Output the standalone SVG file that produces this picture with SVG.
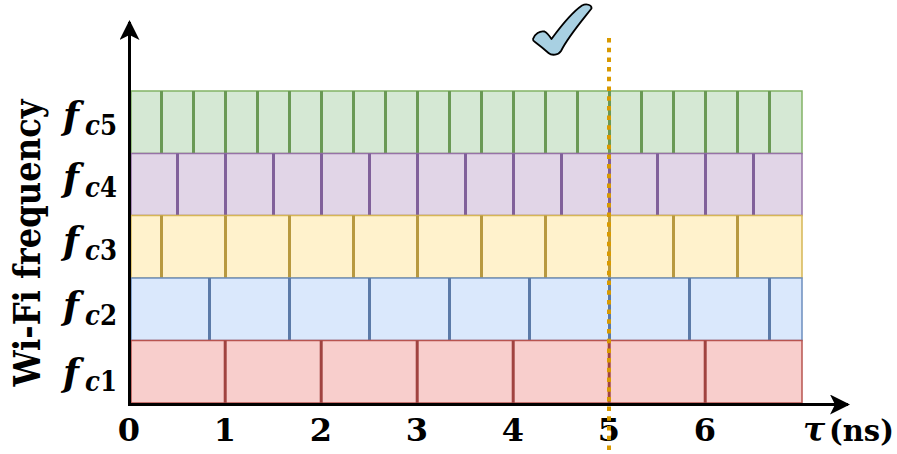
<svg xmlns="http://www.w3.org/2000/svg" width="897" height="454" viewBox="0 0 897 454">
<defs>
<style>
.band{stroke-width:1.5}
.div{stroke-width:3}
.g rect{fill:#d5e8d4;stroke:#82b366}
.g line{stroke:#6a9955}
.p rect{fill:#e1d5e7;stroke:#9673a6}
.p line{stroke:#80609a}
.y rect{fill:#fff2cc;stroke:#d6b656}
.y line{stroke:#b8993f}
.b rect{fill:#dae8fc;stroke:#6c8ebf}
.b line{stroke:#5b7aa8}
.r rect{fill:#f8cecc;stroke:#b85450}
.r line{stroke:#a04340}
.axis{stroke:#000;stroke-width:3;fill:none}
.ser{font-family:'DejaVu Serif','Liberation Serif',serif;font-weight:bold;fill:#000}
</style>
<marker id="arr" viewBox="0 0 20 20" refX="18" refY="10" markerWidth="20" markerHeight="20" markerUnits="userSpaceOnUse" orient="auto">
<path d="M0,0 L20,10 L0,20 L5,10 Z" fill="#000"/>
</marker>
</defs>

<g id="band-fc5" class="g">
<rect class="band" x="131" y="91" width="671" height="62.5"/>
<g class="div">
<line x1="161.5" y1="91" x2="161.5" y2="153.5"/><line x1="193.5" y1="91" x2="193.5" y2="153.5"/><line x1="225.5" y1="91" x2="225.5" y2="153.5"/><line x1="257.5" y1="91" x2="257.5" y2="153.5"/><line x1="289.5" y1="91" x2="289.5" y2="153.5"/><line x1="321.5" y1="91" x2="321.5" y2="153.5"/><line x1="353.5" y1="91" x2="353.5" y2="153.5"/><line x1="385.5" y1="91" x2="385.5" y2="153.5"/><line x1="417.5" y1="91" x2="417.5" y2="153.5"/><line x1="449.5" y1="91" x2="449.5" y2="153.5"/><line x1="481.5" y1="91" x2="481.5" y2="153.5"/><line x1="513.5" y1="91" x2="513.5" y2="153.5"/><line x1="545.5" y1="91" x2="545.5" y2="153.5"/><line x1="577.5" y1="91" x2="577.5" y2="153.5"/><line x1="609.5" y1="91" x2="609.5" y2="153.5"/><line x1="641.5" y1="91" x2="641.5" y2="153.5"/><line x1="673.5" y1="91" x2="673.5" y2="153.5"/><line x1="705.5" y1="91" x2="705.5" y2="153.5"/><line x1="737.5" y1="91" x2="737.5" y2="153.5"/><line x1="769.5" y1="91" x2="769.5" y2="153.5"/>
</g>
</g>

<g id="band-fc4" class="p">
<rect class="band" x="131" y="153.5" width="671" height="62"/>
<g class="div">
<line x1="177.5" y1="153.5" x2="177.5" y2="215.5"/><line x1="225.5" y1="153.5" x2="225.5" y2="215.5"/><line x1="273.5" y1="153.5" x2="273.5" y2="215.5"/><line x1="321.5" y1="153.5" x2="321.5" y2="215.5"/><line x1="369.5" y1="153.5" x2="369.5" y2="215.5"/><line x1="417.5" y1="153.5" x2="417.5" y2="215.5"/><line x1="465.5" y1="153.5" x2="465.5" y2="215.5"/><line x1="513.5" y1="153.5" x2="513.5" y2="215.5"/><line x1="561.5" y1="153.5" x2="561.5" y2="215.5"/><line x1="609.5" y1="153.5" x2="609.5" y2="215.5"/><line x1="657.5" y1="153.5" x2="657.5" y2="215.5"/><line x1="705.5" y1="153.5" x2="705.5" y2="215.5"/><line x1="753.5" y1="153.5" x2="753.5" y2="215.5"/>
</g>
</g>

<g id="band-fc3" class="y">
<rect class="band" x="131" y="215.5" width="671" height="62.5"/>
<g class="div">
<line x1="161.5" y1="215.5" x2="161.5" y2="278"/><line x1="225.5" y1="215.5" x2="225.5" y2="278"/><line x1="289.5" y1="215.5" x2="289.5" y2="278"/><line x1="353.5" y1="215.5" x2="353.5" y2="278"/><line x1="417.5" y1="215.5" x2="417.5" y2="278"/><line x1="481.5" y1="215.5" x2="481.5" y2="278"/><line x1="545.5" y1="215.5" x2="545.5" y2="278"/><line x1="609.5" y1="215.5" x2="609.5" y2="278"/><line x1="673.5" y1="215.5" x2="673.5" y2="278"/><line x1="737.5" y1="215.5" x2="737.5" y2="278"/>
</g>
</g>

<g id="band-fc2" class="b">
<rect class="band" x="131" y="278" width="671" height="62.5"/>
<g class="div">
<line x1="209.5" y1="278" x2="209.5" y2="340.5"/><line x1="289.5" y1="278" x2="289.5" y2="340.5"/><line x1="369.5" y1="278" x2="369.5" y2="340.5"/><line x1="449.5" y1="278" x2="449.5" y2="340.5"/><line x1="529.5" y1="278" x2="529.5" y2="340.5"/><line x1="609.5" y1="278" x2="609.5" y2="340.5"/><line x1="689.5" y1="278" x2="689.5" y2="340.5"/><line x1="769.5" y1="278" x2="769.5" y2="340.5"/>
</g>
</g>

<g id="band-fc1" class="r">
<rect class="band" x="131" y="340.5" width="671" height="62.5"/>
<g class="div">
<line x1="225.2" y1="340.5" x2="225.2" y2="403"/><line x1="321.2" y1="340.5" x2="321.2" y2="403"/><line x1="417.2" y1="340.5" x2="417.2" y2="403"/><line x1="513.2" y1="340.5" x2="513.2" y2="403"/><line x1="609.2" y1="340.5" x2="609.2" y2="403"/><line x1="705.2" y1="340.5" x2="705.2" y2="403"/>
</g>
</g>

<g id="labels-fc" class="ser">
<text x="63" y="128" font-size="37" font-style="italic">f</text>
<text x="85" y="135" font-size="27" textLength="32" lengthAdjust="spacingAndGlyphs"><tspan font-style="italic">c</tspan>5</text>
<text x="63" y="190" font-size="37" font-style="italic">f</text>
<text x="85" y="197" font-size="27" textLength="32" lengthAdjust="spacingAndGlyphs"><tspan font-style="italic">c</tspan>4</text>
<text x="63" y="253" font-size="37" font-style="italic">f</text>
<text x="85" y="260" font-size="27" textLength="32" lengthAdjust="spacingAndGlyphs"><tspan font-style="italic">c</tspan>3</text>
<text x="63" y="318" font-size="37" font-style="italic">f</text>
<text x="85" y="325" font-size="27" textLength="32" lengthAdjust="spacingAndGlyphs"><tspan font-style="italic">c</tspan>2</text>
<text x="63" y="385" font-size="37" font-style="italic">f</text>
<text x="85" y="391" font-size="27" textLength="32" lengthAdjust="spacingAndGlyphs"><tspan font-style="italic">c</tspan>1</text>
</g>

<g id="y-label" class="ser">
<text x="0" y="0" font-size="37" text-anchor="middle" textLength="287" lengthAdjust="spacingAndGlyphs" transform="translate(40,243) rotate(-90)">Wi-Fi frequency</text>
</g>

<g id="tick-labels" class="ser" font-size="32" text-anchor="middle">
<text x="129" y="441">0</text>
<text x="225" y="441">1</text>
<text x="321" y="441">2</text>
<text x="417" y="441">3</text>
<text x="513" y="441">4</text>
<text x="609" y="441">5</text>
<text x="705" y="441">6</text>
</g>
<g id="x-label" class="ser">
<text x="803" y="441" font-size="33" font-style="italic">τ</text>
<text x="829" y="441" font-size="29">(ns)</text>
</g>

<g id="connectors">
<line class="axis" x1="129.5" y1="405" x2="129.5" y2="22" marker-end="url(#arr)"/>
<line class="axis" x1="128" y1="404.5" x2="848" y2="404.5" marker-end="url(#arr)"/>
<line x1="609" y1="38" x2="609" y2="454" stroke="#d99a00" stroke-width="4" stroke-dasharray="4.5 5.2"/>
</g>

<g id="checkmark">
<path d="M533,39 C534.5,34 540,30.5 544.5,31.5 C547.5,33 549.5,36 551.5,39 C561,26 571,13 582,5.5 C586,3.5 592,4.5 591.5,8.5 C580,23 568,37 561,51 C558.5,55 552,56 548.5,53 C544,49 539,45 535,42 C533.5,41 532.8,40 533,39 Z" fill="#a8d0e2" stroke="#000" stroke-width="1.8" stroke-linejoin="round"/>
</g>
</svg>
